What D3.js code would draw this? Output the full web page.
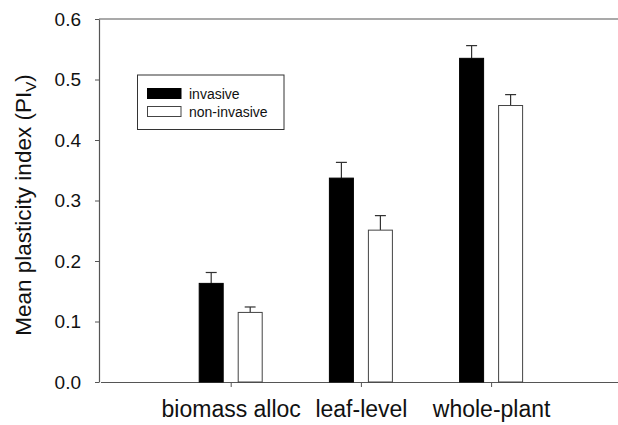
<!DOCTYPE html>
<html>
<head>
<meta charset="utf-8">
<script src="https://cdn.jsdelivr.net/npm/d3@7"></script>
<style>
  html, body { margin: 0; padding: 0; background: #fff; }
  svg { display: block; font-family: "Liberation Sans", Arial, sans-serif; }
</style>
</head>
<body>
<svg id="chart" width="618" height="425"></svg>
<script>
// Mean plasticity index per trait group, invasive vs non-invasive.
var categories = ['biomass alloc', 'leaf-level', 'whole-plant'];
var seriesNames = ['invasive', 'non-invasive'];
var invasiveMean = [0.163, 0.337, 0.535];
var invasiveErr = [0.018, 0.026, 0.021];
var nonInvasiveMean = [0.115, 0.251, 0.457];
var nonInvasiveErr = [0.009, 0.024, 0.018];
var yTicks = [0.0, 0.1, 0.2, 0.3, 0.4, 0.5, 0.6];

var svg = d3.select('#chart');
var AXIS = '#555';
var BAR_W = 24, GAP = 15;

// categories sit at 1, 2, 3 on a 0..4 axis
var x = d3.scaleLinear().domain([0, 4]).range([100.5, 621.3]);
var y = d3.scaleLinear().domain([0, 0.6]).range([382, 19]);

// top frame line
svg.append('line')
  .attr('x1', x(0) - 1.5).attr('x2', 618)
  .attr('y1', y(0.6)).attr('y2', y(0.6))
  .attr('stroke', AXIS).attr('stroke-width', 1.2);

// y axis
var yAxis = svg.append('g')
  .attr('transform', 'translate(' + (x(0) - 1.5) + ',0)')
  .call(d3.axisLeft(y).tickValues(yTicks).tickFormat(d3.format('.1f'))
    .tickSizeInner(4).tickSizeOuter(0).tickPadding(14));
yAxis.select('.domain').attr('stroke', AXIS).attr('stroke-width', 1.2);
yAxis.selectAll('.tick line').attr('stroke', AXIS);
yAxis.selectAll('.tick text')
  .attr('font-size', 19).attr('fill', '#111')
  .attr('font-family', '"Liberation Sans", Arial, sans-serif');

// x axis
var xAxis = svg.append('g')
  .attr('transform', 'translate(0,' + y(0) + ')')
  .call(d3.axisBottom(x).tickValues([1, 2, 3])
    .tickFormat(function (d) { return categories[d - 1]; })
    .tickSizeInner(5).tickSizeOuter(0).tickPadding(14));
xAxis.select('.domain').attr('stroke', AXIS).attr('stroke-width', 1.2);
xAxis.selectAll('.tick line').attr('stroke', AXIS);
xAxis.selectAll('.tick text')
  .attr('font-size', 23).attr('fill', '#111')
  .attr('font-family', '"Liberation Sans", Arial, sans-serif');

// bars
var rows = categories.map(function (c, i) {
  return [
    { cat: i + 1, s: 0, mean: invasiveMean[i], err: invasiveErr[i] },
    { cat: i + 1, s: 1, mean: nonInvasiveMean[i], err: nonInvasiveErr[i] }
  ];
}).flat();

function barX(d) {
  return d.s === 0 ? x(d.cat) - GAP / 2 - BAR_W : x(d.cat) + GAP / 2;
}

var g = svg.append('g');

// error bars (upper only)
g.selectAll('line.err').data(rows).enter().append('line')
  .attr('class', 'err')
  .attr('x1', function (d) { return barX(d) + BAR_W / 2; })
  .attr('x2', function (d) { return barX(d) + BAR_W / 2; })
  .attr('y1', function (d) { return y(d.mean); })
  .attr('y2', function (d) { return y(d.mean + d.err); })
  .attr('stroke', '#333').attr('stroke-width', 1.2);
g.selectAll('line.cap').data(rows).enter().append('line')
  .attr('class', 'cap')
  .attr('x1', function (d) { return barX(d) + BAR_W / 2 - 5.5; })
  .attr('x2', function (d) { return barX(d) + BAR_W / 2 + 5.5; })
  .attr('y1', function (d) { return y(d.mean + d.err); })
  .attr('y2', function (d) { return y(d.mean + d.err); })
  .attr('stroke', '#333').attr('stroke-width', 1.2);

g.selectAll('rect.bar').data(rows).enter().append('rect')
  .attr('class', 'bar')
  .attr('x', function (d) { return barX(d); })
  .attr('y', function (d) { return y(d.mean); })
  .attr('width', BAR_W)
  .attr('height', function (d) { return y(0) - y(d.mean); })
  .attr('fill', function (d) { return d.s === 0 ? '#000' : '#fff'; })
  .attr('stroke', function (d) { return d.s === 0 ? '#000' : '#444'; })
  .attr('stroke-width', 1);

// legend
var leg = svg.append('g');
leg.append('rect')
  .attr('x', 137.5).attr('y', 75).attr('width', 146.5).attr('height', 54.5)
  .attr('fill', '#fff').attr('stroke', '#333').attr('stroke-width', 1);
seriesNames.forEach(function (name, i) {
  leg.append('rect')
    .attr('x', 147.5).attr('y', 88.5 + i * 18).attr('width', 33.5).attr('height', 10)
    .attr('fill', i === 0 ? '#000' : '#fff')
    .attr('stroke', i === 0 ? '#000' : '#444').attr('stroke-width', 1);
  leg.append('text')
    .attr('x', 189).attr('y', 98.5 + i * 18)
    .attr('font-size', 14).attr('fill', '#111')
    .text(name);
});

// y label
var yl = svg.append('text')
  .attr('transform', 'translate(30.5,205) rotate(-90)')
  .attr('text-anchor', 'middle')
  .attr('font-size', 22.5).attr('fill', '#111');
yl.append('tspan').text('Mean plasticity index (PI');
yl.append('tspan').attr('font-size', 15).attr('dy', 5).text('V');
yl.append('tspan').attr('dy', -5).text(')');
</script>
</body>
</html>
